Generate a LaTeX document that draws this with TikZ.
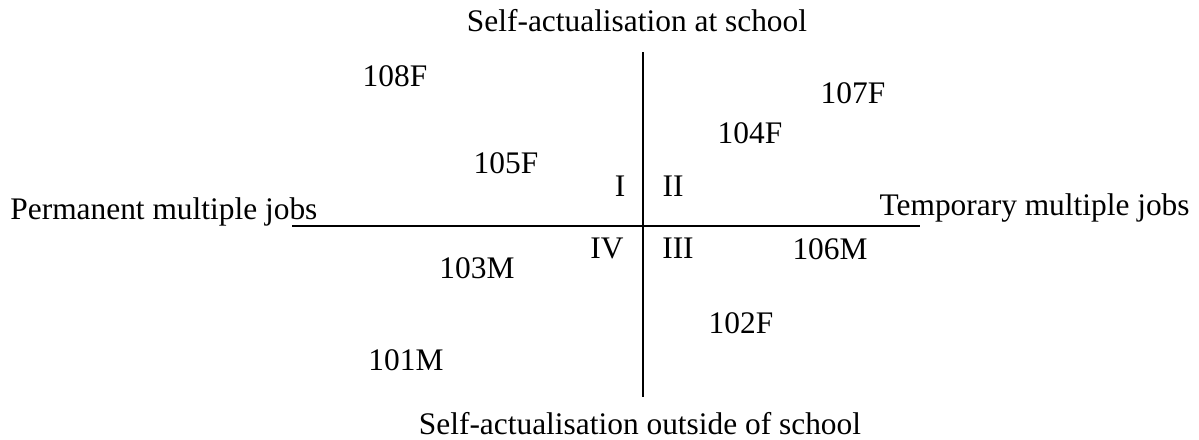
\documentclass[tikz,border=0pt]{standalone}
\usepackage{fontspec}
\setmainfont{Liberation Serif}
\usepackage{tikz}
\usetikzlibrary{positioning}

\begin{document}
\begin{tikzpicture}[
        x=0.5pt, y=-0.5pt,
        axislabel/.style={inner sep=0pt, anchor=base, font=\fontsize{15.7}{18}\selectfont},
        case/.style={inner sep=0pt, anchor=base, font=\fontsize{15.7}{18}\selectfont},
        quadrant/.style={inner sep=0pt, anchor=base, font=\fontsize{15.7}{18}\selectfont},
        axis/.style={line width=0.75pt, black}
    ]
        \useasboundingbox (0,0) rectangle (1199,439);

        % axes
        \coordinate (west) at (292,226);
        \coordinate (east) at (920,226);
        \coordinate (north) at (643,52);
        \coordinate (south) at (643,397);
        \draw[axis] (west) -- (east);
        \draw[axis] (north) -- (south);

        % axis labels
        \node[axislabel] (school) at (637,32) {Self-actualisation at school};
        \node[axislabel] (outside) at (640,434) {Self-actualisation outside of school};
        \node[axislabel, anchor=base west] (permanent) at (10,219) {Permanent multiple jobs};
        \node[axislabel, anchor=base east] (temporary) at (1190,215) {Temporary multiple jobs};

        % quadrants
        \node[quadrant] (qI) at (620,196) {I};
        \node[quadrant] (qII) at (673,196) {II};
        \node[quadrant] (qIII) at (678,258) {III};
        \node[quadrant] (qIV) at (607,258) {IV};

        % cases
        \node[case] (c108F) at (395,86) {108F};
        \node[case] (c107F) at (853,103) {107F};
        \node[case] (c104F) at (750,143) {104F};
        \node[case] (c105F) at (506,173) {105F};
        \node[case] (c106M) at (830,259) {106M};
        \node[case] (c103M) at (477,278) {103M};
        \node[case] (c102F) at (741,333) {102F};
        \node[case] (c101M) at (406,370) {101M};
    \end{tikzpicture}
\end{document}
